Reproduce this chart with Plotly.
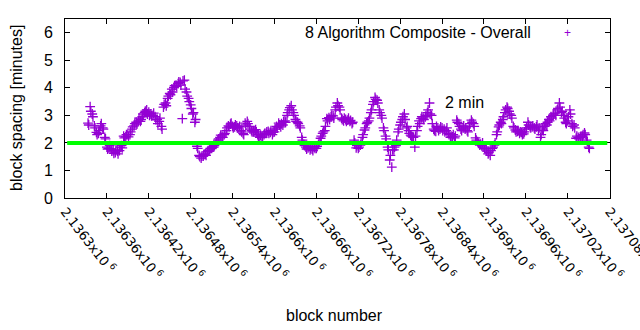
import plotly.graph_objects as go

# ---- data ----
block_start = 2136333
block_step = 3
spacing_minutes = [
    2.72, 3.32, 3.05, 2.62, 2.38,
    2.35, 2.62, 2.55, 2.20, 1.85,
    1.80, 1.78, 1.72, 1.65, 1.70,
    1.72, 1.90, 2.25, 2.22, 2.30,
    2.30, 2.50, 2.62, 2.75, 2.80,
    2.78, 2.95, 3.10, 3.20, 3.12,
    3.05, 3.00, 2.95, 2.85, 2.78,
    2.60, 3.30, 3.45, 3.62, 3.80,
    3.95, 4.02, 4.10, 4.15, 4.20,
    2.88, 4.28, 3.85, 3.62, 3.38,
    3.05, 2.75, 1.88, 1.55, 1.45,
    1.52, 1.60, 1.68, 1.75, 1.80,
    1.85, 1.95, 2.10, 2.20, 2.25,
    2.30, 2.45, 2.62, 2.68, 2.60,
    2.58, 2.62, 2.55, 2.45, 2.35,
    2.72, 2.78, 2.60, 2.45, 2.40,
    2.48, 2.30, 2.20, 2.25, 2.30,
    2.35, 2.42, 2.38, 2.30, 2.40,
    2.60, 2.72, 2.58, 2.65, 2.80,
    3.00, 3.20, 3.35, 3.10, 2.85,
    2.75, 2.62, 2.20, 1.95, 1.85,
    1.82, 1.75, 1.78, 1.85, 1.80,
    1.95, 2.17, 2.35, 2.45, 2.88,
    2.92, 2.95, 2.98, 3.20, 3.45,
    3.30, 2.90, 2.80, 2.85, 2.83,
    2.78, 2.70, 2.10, 1.82, 1.80,
    1.92, 2.20, 2.47, 2.70, 2.80,
    3.10, 3.40, 3.65, 3.55, 3.20,
    3.00, 2.55, 2.25, 1.85, 1.38,
    1.12, 1.75, 1.90, 2.40, 2.65,
    2.85, 3.05, 2.55, 2.45, 2.28,
    2.22, 1.85, 2.45, 2.80, 2.88,
    2.90, 2.95, 3.10, 3.45, 3.00,
    2.50, 2.42, 2.55, 2.50, 2.55,
    2.50, 2.45, 2.35, 2.20, 2.22,
    2.18, 2.83, 2.70, 2.50, 2.55,
    2.50, 2.45, 2.60, 2.83, 2.70,
    2.18, 2.05, 1.92, 1.90, 1.85,
    1.75, 1.60, 1.55, 1.80, 1.92,
    2.30, 2.58, 2.75, 2.85, 3.10,
    3.30, 3.15, 3.00, 2.60, 2.47,
    2.42, 2.35, 2.38, 2.33, 2.50,
    2.75, 2.60, 2.58, 2.55, 2.58,
    2.45, 2.20, 2.50, 2.60, 2.65,
    2.85, 2.95, 3.00, 3.08, 3.20,
    3.45, 3.10, 3.00, 2.75, 2.80,
    3.20, 2.70, 2.65, 2.17, 2.20,
    2.20, 2.25, 2.36, 2.10, 1.85,
]
# the blocks in between (block_start + 1, + 4, ...)
spacing_minutes_between = [
    2.65, 3.15, 2.95, 2.55, 2.30,
    2.45, 2.70, 2.50, 2.15, 1.78,
    1.90, 1.70, 1.62, 1.75, 1.60,
    1.85, 1.82, 2.18, 2.30, 2.22,
    2.40, 2.58, 2.70, 2.68, 2.90,
    2.85, 3.05, 3.15, 3.05, 3.00,
    2.98, 3.08, 2.85, 2.70, 2.90,
    2.50, 3.40, 3.35, 3.70, 3.75,
    3.85, 4.08, 4.05, 4.22, 4.10,
    4.25, 3.95, 3.70, 3.50, 3.25,
    3.10, 2.85, 1.80, 1.50, 1.52,
    1.58, 1.55, 1.72, 1.80, 1.85,
    1.90, 2.00, 2.15, 2.28, 2.20,
    2.35, 2.55, 2.58, 2.72, 2.55,
    2.65, 2.55, 2.60, 2.40, 2.30,
    2.65, 2.70, 2.50, 2.40, 2.45,
    2.40, 2.25, 2.28, 2.20, 2.35,
    2.40, 2.35, 2.45, 2.38, 2.50,
    2.55, 2.65, 2.70, 2.78, 2.75,
    3.10, 3.28, 3.20, 3.00, 2.78,
    2.70, 2.55, 2.10, 1.90, 1.78,
    1.88, 1.80, 1.72, 1.80, 1.88,
    2.05, 2.25, 2.40, 2.60, 2.80,
    2.85, 3.00, 2.90, 3.30, 3.35,
    3.20, 2.85, 2.90, 2.78, 2.90,
    2.82, 2.75, 2.00, 1.90, 1.85,
    2.00, 2.30, 2.55, 2.75, 2.90,
    3.20, 3.50, 3.58, 3.45, 3.10,
    2.90, 2.45, 2.15, 1.75, 1.55,
    1.75, 1.85, 2.10, 2.50, 2.75,
    2.95, 2.85, 2.60, 2.35, 2.25,
    2.20, 2.25, 2.60, 2.70, 2.95,
    2.85, 3.00, 3.20, 3.05, 2.70,
    2.45, 2.60, 2.45, 2.58, 2.45,
    2.40, 2.55, 2.30, 2.25, 2.30,
    2.25, 2.75, 2.60, 2.45, 2.62,
    2.55, 2.40, 2.70, 2.75, 2.60,
    2.10, 1.98, 1.95, 2.00, 1.80,
    1.70, 1.65, 1.72, 1.85, 2.00,
    2.40, 2.65, 2.70, 2.95, 3.20,
    3.25, 3.05, 2.90, 2.55, 2.40,
    2.45, 2.40, 2.30, 2.40, 2.55,
    2.65, 2.55, 2.62, 2.50, 2.65,
    2.55, 2.30, 2.45, 2.70, 2.75,
    2.80, 2.90, 3.05, 3.00, 3.25,
    3.30, 3.15, 2.90, 2.70, 2.95,
    3.05, 2.60, 2.55, 2.25, 2.15,
    2.25, 2.30, 2.30, 2.05, 1.80,
]
blocks = [block_start + block_step * i for i in range(len(spacing_minutes))]
blocks_between = [block_start + 1 + block_step * i for i in range(len(spacing_minutes_between))]

target_minutes = 2
x_range = [2136300, 2137080.5]
y_range = [0, 6.5]
x_tick_values = [2136300, 2136360, 2136420, 2136480, 2136540, 2136600, 2136660,
                 2136720, 2136780, 2136840, 2136900, 2136960, 2137020, 2137080]
x_tick_labels = ["2.1363x10<sup> 6</sup>", "2.13636x10<sup> 6</sup>", "2.13642x10<sup> 6</sup>",
                 "2.13648x10<sup> 6</sup>", "2.13654x10<sup> 6</sup>", "2.1366x10<sup> 6</sup>",
                 "2.13666x10<sup> 6</sup>", "2.13672x10<sup> 6</sup>", "2.13678x10<sup> 6</sup>",
                 "2.13684x10<sup> 6</sup>", "2.1369x10<sup> 6</sup>", "2.13696x10<sup> 6</sup>",
                 "2.13702x10<sup> 6</sup>", "2.13708x10<sup> 6</sup>"]
y_tick_values = [0, 1, 2, 3, 4, 5, 6]

series_name = "8 Algorithm Composite - Overall"
line_label = "2 min"
x_title = "block number"
y_title = "block spacing [minutes]"

PURPLE = "#9400d3"
GREEN = "#00ff00"
FONT = "Liberation Sans"

fig = go.Figure()
fig.add_trace(go.Scatter(
    x=blocks + blocks_between, y=spacing_minutes + spacing_minutes_between,
    mode="markers", name=series_name,
    marker=dict(symbol="cross-thin-open", size=7, color=PURPLE,
                line=dict(color=PURPLE, width=1.3)),
    showlegend=False,
))

fig.add_shape(type="line", xref="paper", yref="y", x0=0.004, x1=0.995,
              y0=target_minutes, y1=target_minutes,
              line=dict(color=GREEN, width=4), layer="above")

axis_common = dict(showgrid=False, zeroline=False, showline=True, linecolor="black",
                   linewidth=1, mirror="ticks", ticks="inside", ticklen=5,
                   tickcolor="black", tickwidth=1, automargin=False)

fig.update_xaxes(range=x_range, tickvals=x_tick_values, ticktext=x_tick_labels,
                 tickangle=52, ticklabeloverflow="allow",
                 tickfont=dict(family="DejaVu Sans", size=13, color="black"),
                 **axis_common)
fig.update_yaxes(range=y_range, tickvals=y_tick_values,
                 tickfont=dict(family=FONT, size=16, color="black"),
                 ticklabelstandoff=8, **axis_common)

ann_font = dict(family=FONT, size=16, color="black")
fig.add_annotation(xref="paper", yref="paper", x=0.8587, y=0.9235, text=series_name,
                   showarrow=False, xanchor="right", yanchor="middle", font=ann_font)
fig.add_annotation(xref="paper", yref="paper", x=0.9224, y=0.9235, text="+",
                   showarrow=False, xanchor="center", yanchor="middle",
                   font=dict(family=FONT, size=12, color=PURPLE))
fig.add_annotation(xref="paper", yref="paper", x=0.7339, y=0.536, text=line_label,
                   showarrow=False, xanchor="center", yanchor="middle", font=ann_font)
fig.add_annotation(xref="paper", yref="paper", x=0.4936, y=-0.654, text=x_title,
                   showarrow=False, xanchor="center", yanchor="middle", font=ann_font)
fig.add_annotation(xref="paper", yref="paper", x=-0.0881, y=0.503, text=y_title,
                   textangle=-90, showarrow=False, xanchor="center", yanchor="middle",
                   font=ann_font)

fig.update_layout(width=640, height=330, margin=dict(l=65, r=30, t=19, b=132, autoexpand=False),
                  paper_bgcolor="white", plot_bgcolor="white", showlegend=False)

fig.write_html("out.html")
